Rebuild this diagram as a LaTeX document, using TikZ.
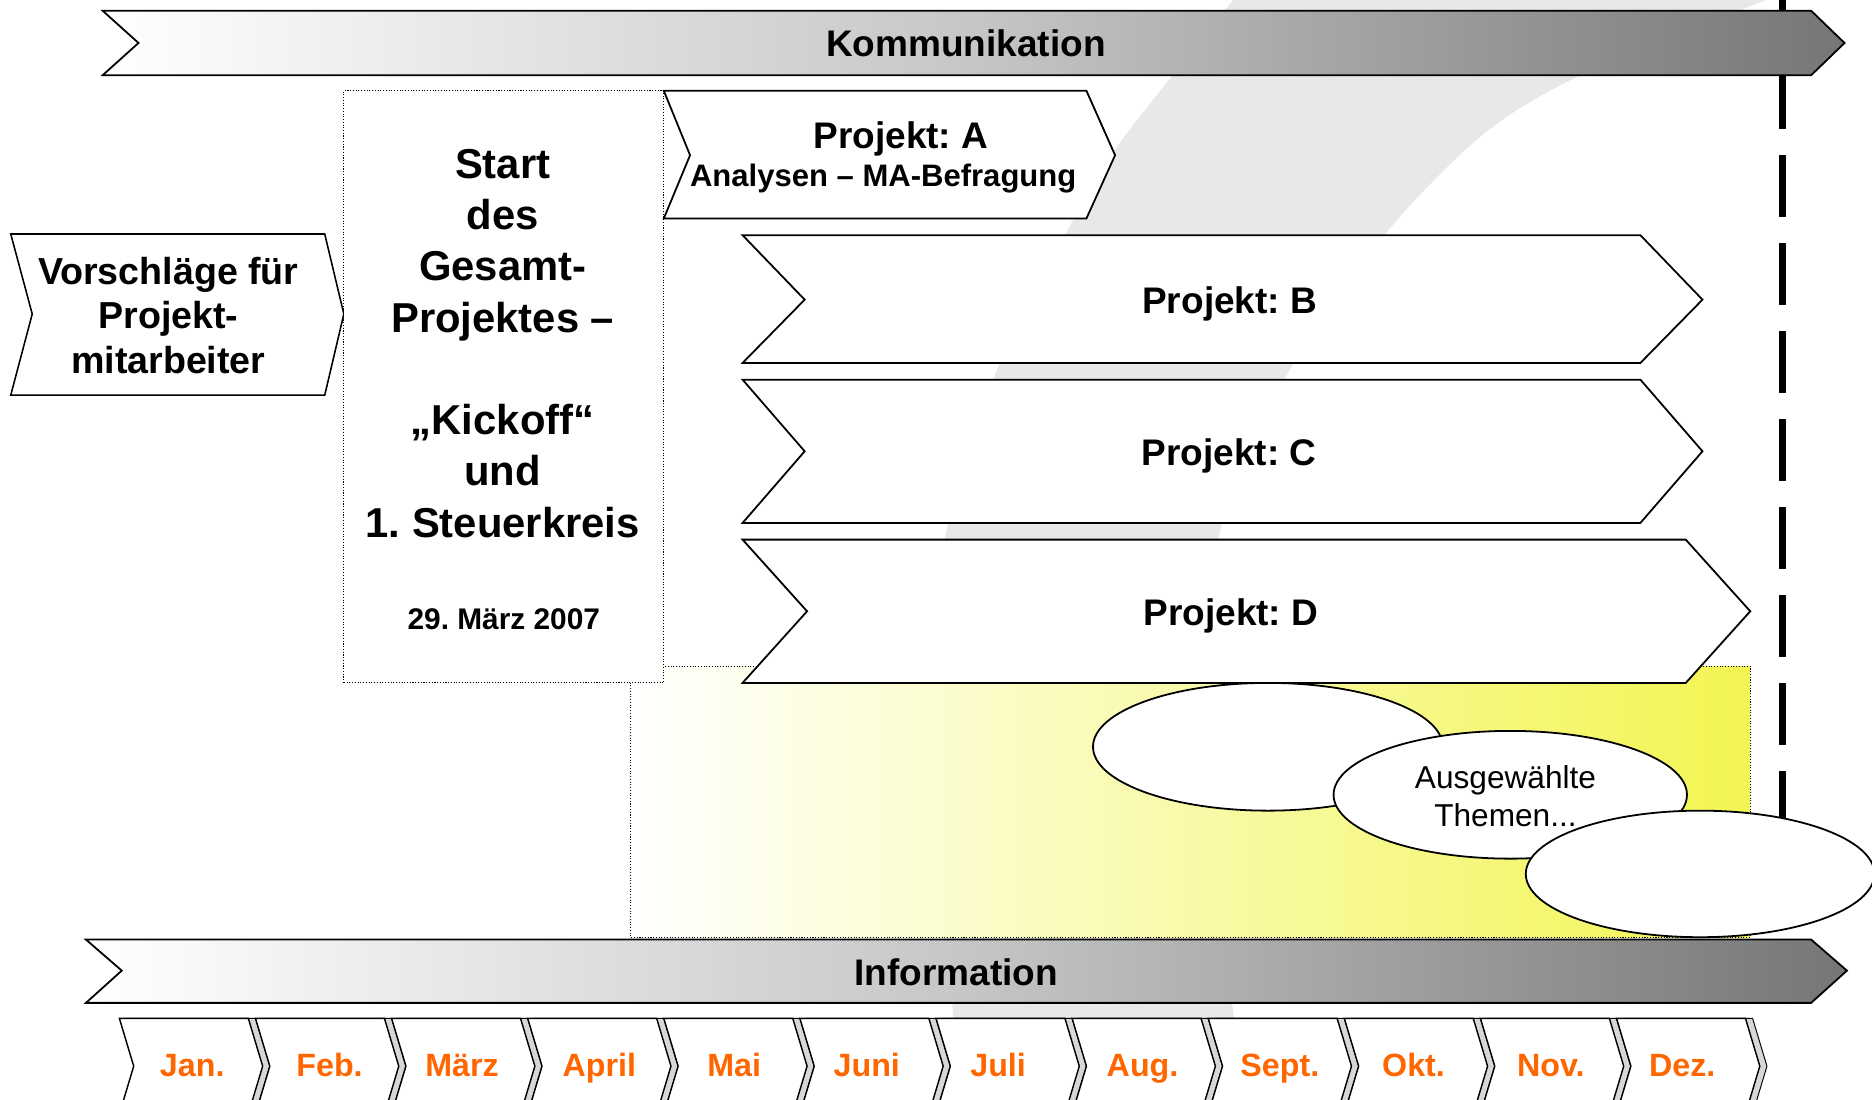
\documentclass[tikz,border=0pt]{standalone}
\usepackage{fontspec}
\setmainfont{Liberation Sans}
\usetikzlibrary{shapes.geometric}
\definecolor{swooshgray}{RGB}{232,232,232}
\definecolor{bardark}{RGB}{118,118,118}
\definecolor{barmid}{RGB}{198,198,198}
\definecolor{zoneyellow}{RGB}{242,245,82}
\definecolor{monthorange}{RGB}{255,102,0}
\definecolor{shadowgray}{RGB}{215,215,215}
\newcommand{\lineblock}[1]{\begin{tabular}[t]{@{}c@{}}#1\end{tabular}}
\frenchspacing
\begin{document}
\begin{tikzpicture}[x=1pt,y=-1pt,
  every node/.style={inner sep=0pt, outer sep=0pt},
  edge/.style={draw=black, line width=1.5pt, line join=miter},
  bar/.style={edge, left color=white, right color=bardark, middle color=barmid},
  projbox/.style={edge, fill=white},
  dotline/.style={draw=black, line width=0.9pt, dash pattern=on 0.9pt off 1.4pt},
  startbox/.style={dotline, fill=white, rectangle, minimum width=268pt, minimum height=496pt},
  zone/.style={dotline, left color=white, right color=zoneyellow},
  bubble/.style={ellipse, draw=black, line width=1.5pt, fill=white},
  bigtxt/.style={font=\bfseries\fontsize{31}{37}\selectfont, anchor=base},
  subtxt/.style={font=\bfseries\fontsize{26}{31}\selectfont, anchor=base},
  monthbox/.style={draw=black, line width=1.2pt, line join=miter, fill=white},
  monthshadow/.style={draw=black, line width=0.8pt, fill=shadowgray},
  monthtxt/.style={font=\bfseries\fontsize{27}{31}\selectfont, text=monthorange, anchor=base},
  timeline/.style={draw=black, line width=6pt, dash pattern=on 52pt off 21.7pt}
]
\useasboundingbox (0,0) rectangle (1568,921);
\clip (0,0) rectangle (1568,921);
\fill[white] (0,0) rectangle (1568,921);

% background swoosh
\fill[swooshgray] plot[smooth] coordinates {(1042,-12) (1033,0) (983,62) (932,128) (893,195) (835,310) (793,444) (782,600) (790,750) (806,935)}
  -- plot[smooth] coordinates {(1046,935) (1033,848) (1012,650) (1022,444) (1080,310) (1161,195) (1243,112) (1326,62) (1479,0) (1508,-12)} -- cycle;

% dashed time line
\coordinate (tltop) at (1493,-17.4);
\coordinate (tlbot) at (1493,787);
\draw[timeline] (tltop) -- (tlbot);

% yellow zone
\path[zone] (528,558) rectangle (1466,785);

% Kommunikation bar
\path[bar] (86,9) -- (1517,9) -- (1545,36) -- (1517,63) -- (86,63) -- (116,36) -- cycle;
\node[bigtxt] (komm) at (809,47.5) {Kommunikation};

% Vorschlaege
\path[projbox, line width=1.3pt] (9,196) -- (272,196) -- (288,263) -- (272,331) -- (9,331) -- (27,263) -- cycle;
\node[font=\bfseries\fontsize{31.5}{37.5}\selectfont, anchor=base] (vors) at (141,238) {\lineblock{Vorschläge für\\Projekt-\\mitarbeiter}};

% Start box
\node[startbox] (start) at (422,324) {};
\node[font=\bfseries\fontsize{35}{42.9}\selectfont, anchor=base] (starttxt) at (421,149.5) {\lineblock{Start\\des\\Gesamt-\\Projektes –\\ \\„Kickoff“\\und\\1. Steuerkreis}};
\node[font=\bfseries\fontsize{25}{30}\selectfont, anchor=base] (date) at (422,527) {29. März 2007};

% Projekt A
\path[projbox] (556,76) -- (910,76) -- (934,130) -- (910,183) -- (556,183) -- (578,130) -- cycle;
\node[bigtxt] (pa) at (754.6,124.2) {Projekt: A};
\node[subtxt] (pasub) at (739.8,156.5) {Analysen – MA-Befragung};

% Projekt B
\path[projbox] (622,197) -- (1374,197) -- (1426,251) -- (1374,304) -- (622,304) -- (674,251) -- cycle;
\node[bigtxt] (pb) at (1030,262.4) {Projekt: B};
% Projekt C
\path[projbox] (622,318) -- (1374,318) -- (1426,378) -- (1374,438) -- (622,438) -- (674,378) -- cycle;
\node[bigtxt] (pc) at (1029.4,389.5) {Projekt: C};
% Projekt D
\path[projbox] (622,452) -- (1412,452) -- (1466,512) -- (1412,572) -- (622,572) -- (676,512) -- cycle;
\node[bigtxt] (pd) at (1031,523.5) {Projekt: D};

% bubbles
\node[bubble, minimum width=293pt, minimum height=107pt] (e1) at (1062,625.5) {};
\node[bubble, minimum width=296pt, minimum height=107pt] (e2) at (1265,665.7) {};
\node[font=\fontsize{26.5}{32}\selectfont, anchor=base] (e2txt) at (1261,660.5) {\lineblock{Ausgewählte\\Themen...}};
\node[bubble, minimum width=292pt, minimum height=106pt] (e3) at (1424,732) {};

% Information bar
\path[bar] (72,787) -- (1517,787) -- (1547,813) -- (1517,840) -- (72,840) -- (102,813) -- cycle;
\node[bigtxt] (info) at (801,825.5) {Information};

% months
\foreach \m/\c [count=\i from 0] in {Jan./161,Feb./276,März/387,April/502,Mai/615,Juni/726,Juli/836,Aug./957,Sept./1072,Okt./1184,Nov./1299,Dez./1409} {
  \pgfmathsetmacro{\xo}{100+114*\i}
  \path[monthshadow] (\xo+6,853) -- ++(108,0) -- ++(12,40) -- ++(-12,40) -- ++(-108,0) -- ++(12,-40) -- cycle;
  \path[monthbox] (\xo,853) -- ++(108,0) -- ++(12,40) -- ++(-12,40) -- ++(-108,0) -- ++(12,-40) -- cycle;
  \node[monthtxt] (m\i) at (\c,901.5) {\m};
}
\end{tikzpicture}
\end{document}
